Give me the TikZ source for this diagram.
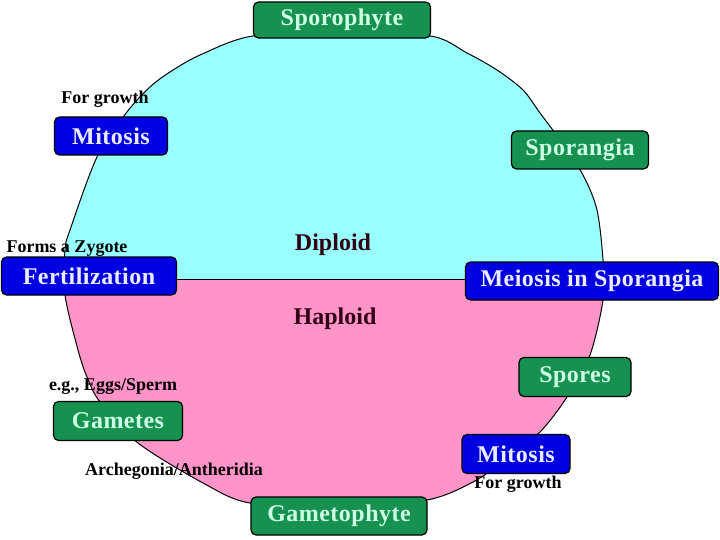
\documentclass[tikz,border=0pt]{standalone}
\usepackage{fontspec}
\setmainfont{Liberation Serif}
\usepackage{tikz}
\usetikzlibrary{positioning, calc}
\definecolor{diploidCyan}{RGB}{153,255,255}
\definecolor{haploidPink}{RGB}{255,148,200}
\definecolor{boxGreen}{RGB}{22,145,80}
\definecolor{boxBlue}{RGB}{0,0,225}
\definecolor{greenText}{RGB}{205,255,228}
\definecolor{blueText}{RGB}{235,235,255}
\definecolor{phaseText}{RGB}{50,0,20}

\tikzset{
  stagebox/.style={rounded corners=5pt, draw=black, line width=1.2pt, inner sep=0pt,
    font=\fontsize{24}{27}\selectfont\bfseries\addfontfeatures{LetterSpace=2}},
  greenbox/.style={stagebox, fill=boxGreen, text=greenText},
  bluebox/.style={stagebox, fill=boxBlue, text=blueText},
  note/.style={font=\fontsize{18}{21}\selectfont\bfseries, inner sep=0pt},
  phase/.style={font=\fontsize{24}{28}\selectfont\bfseries, text=phaseText, inner sep=0pt}
}

\begin{document}
\begin{tikzpicture}[x=1pt, y=-1pt, >=stealth]
    \useasboundingbox (0,0) rectangle (720,540);

    % outline of the cycle
    \def\cycleshape{plot[smooth cycle, tension=0.5] coordinates {
        (340,36) (430,36) (467,53) (497,70) (523,90) (540,113) (560,140)
        (583,175) (597,210) (603,260) (603,300) (590,355) (567,397)
        (540,432) (505,460) (473,482) (427,500) (340,506) (250,503)
        (203,483) (138,443) (100,402) (87,377) (78,350) (65,295) (65,250)
        (70,230) (97,157) (127,112) (150,87) (170,72) (200,55) (253,36)}}

    % Step 1: diploid half (top) and haploid half (bottom)
    \begin{scope}
        \clip (0,0) rectangle (720,279);
        \fill[diploidCyan] \cycleshape;
    \end{scope}
    \begin{scope}
        \clip (0,279) rectangle (720,540);
        \fill[haploidPink] \cycleshape;
    \end{scope}
    \draw[line width=1pt, black] \cycleshape;

    % Step 2: stages round the cycle
    \node[greenbox, minimum width=177pt, minimum height=36pt] (sporophyte) at (342,20) {Sporophyte};
    \node[bluebox, minimum width=113pt, minimum height=38pt] (mitosisTop) at (111,136) {Mitosis};
    \node[greenbox, minimum width=137pt, minimum height=38pt] (sporangia) at (580,150) {Sporangia};
    \node[bluebox, minimum width=175pt, minimum height=38pt] (fertilization) at (89,276) {Fertilization};
    \node[bluebox, minimum width=253pt, minimum height=38pt] (meiosis) at (592,281) {Meiosis in Sporangia};
    \node[greenbox, minimum width=112pt, minimum height=39pt] (spores) at (575,377) {Spores};
    \node[greenbox, minimum width=129pt, minimum height=39pt] (gametes) at (118,421) {Gametes};
    \node[bluebox, minimum width=108pt, minimum height=39pt] (mitosisBottom) at (516,454) {Mitosis};
    \node[greenbox, minimum width=176pt, minimum height=38pt] (gametophyte) at (339,516) {Gametophyte};

    % dividing line between the two halves
    \draw[line width=1pt, black] (fertilization.east |- 0,279) -- (meiosis.west |- 0,279);

    % Step 3: notes
    \node[note] (growthTop) at (105,99) {For growth};
    \node[note] (zygote) at (67,249) {Forms a Zygote};
    \node[note] (eggs) at (113,387) {e.g., Eggs/Sperm};
    \node[note] (organs) at (174,471) {Archegonia/Antheridia};
    \node[note] (growthBottom) at (518,484) {For growth};

    \node[phase] (diploid) at (333,245) {Diploid};
    \node[phase] (haploid) at (335,319) {Haploid};
\end{tikzpicture}
\end{document}
